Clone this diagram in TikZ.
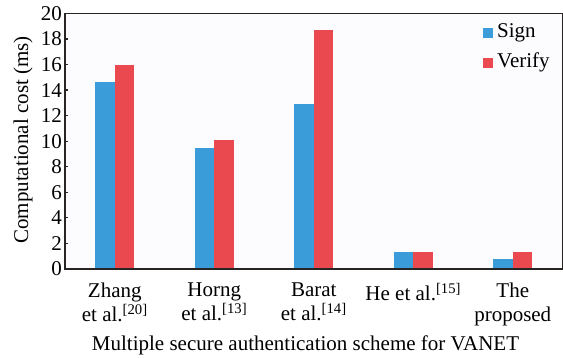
\documentclass[tikz,border=0pt]{standalone}
\usepackage{fontspec}
\setmainfont{Liberation Serif}
\usetikzlibrary{math}

\definecolor{signblue}{RGB}{58,157,217}
\definecolor{verifyred}{RGB}{233,73,79}
\definecolor{framegray}{RGB}{40,36,36}
\definecolor{plotbg}{RGB}{252,252,254}

\begin{document}
\begin{tikzpicture}[x=99.5bp, y=12.78bp,
    lab/.style={font=\fontsize{21bp}{24bp}\selectfont, inner sep=0pt},
    xlab/.style={lab, align=center, anchor=north, execute at begin node=\strut},
    keybox/.style={minimum size=10bp, inner sep=0pt, anchor=south west}]
    \useasboundingbox (-65bp,-89bp) rectangle (498bp,269bp);
    \tikzmath{
        \bw = 0.196;
    }
%
    % plot area
    \fill[plotbg] (0,0) rectangle (5,20);
    \foreach \i/\s/\v in {1/14.6/16.0, 2/9.5/10.1, 3/12.9/18.7, 4/1.3/1.3, 5/0.8/1.3}{
        \fill[signblue] ({\i-0.5-\bw},0) rectangle ({\i-0.5},\s);
        \fill[verifyred] ({\i-0.5},0) rectangle ({\i-0.5+\bw},\v);
    }
    \draw[framegray, line width=1.4bp] (0,0) rectangle (5,20);
%
    % y ticks
    \foreach \t in {0,2,...,20}{
        \draw[framegray, line width=1.2bp] (0,\t) -- ++(3bp,0);
        \node[lab, anchor=east] (ytick\t) at ([xshift=-3bp]0,\t) {\t};
    }
%
    % scheme names
    \node[xlab] (zhang) at ([yshift=-14bp]0.5,0) {Zhang\\et al.\textsuperscript{[20]}};
    \node[xlab] (horng) at ([yshift=-14bp]1.5,0) {Horng\\et al.\textsuperscript{[13]}};
    \node[xlab] (barat) at ([yshift=-14bp]2.5,0) {Barat\\et al.\textsuperscript{[14]}};
    \node[xlab] (he) at ([yshift=-14bp]3.5,0) {He et al.\textsuperscript{[15]}};
    \node[xlab] (ours) at ([yshift=-14bp]4.5,0) {The\\proposed};
%
    % axis titles
    \node[lab, anchor=base] (xtitle) at (240.5bp,-81bp)
        {Multiple secure authentication scheme for VANET};
    \node[lab, rotate=90] (ytitle) at (-42bp,129bp) {Computational cost (ms)};
%
    % legend
    \node[keybox, fill=signblue] (signbox) at (418bp,231bp) {};
    \node[lab, anchor=base west] (signkey) at (432bp,231bp) {Sign};
    \node[keybox, fill=verifyred] (verifybox) at (418bp,201bp) {};
    \node[lab, anchor=base west] (verifykey) at (432bp,201bp) {Verify};
\end{tikzpicture}
\end{document}
